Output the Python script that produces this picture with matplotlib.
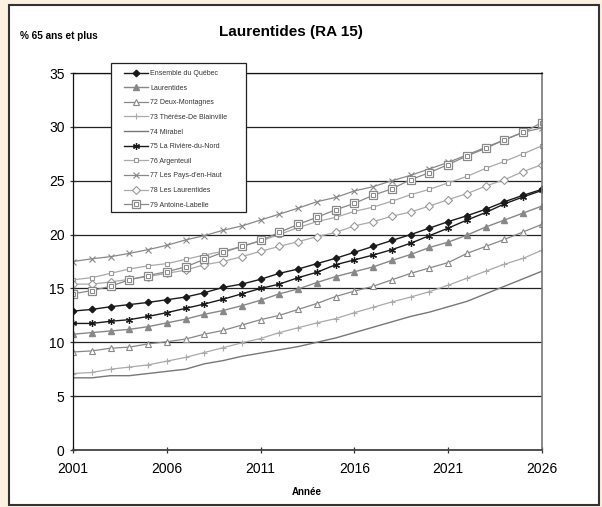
import numpy as np
import matplotlib
matplotlib.use("Agg")
import matplotlib.pyplot as plt
from matplotlib.patches import Rectangle
from matplotlib.legend_handler import HandlerTuple

plt.rcParams['font.family'] = ['Liberation Sans', 'DejaVu Sans']

years = np.arange(2001, 2027)

quebec = [12.9, 13.05, 13.3, 13.5, 13.7, 13.95, 14.2, 14.6, 15.1, 15.4, 15.85, 16.4, 16.8,
          17.3, 17.8, 18.35, 18.9, 19.45, 20.0, 20.6, 21.2, 21.75, 22.35, 23.05, 23.65, 24.2]
laurentides_ra = [10.75, 10.9, 11.05, 11.2, 11.45, 11.8, 12.15, 12.6, 12.95, 13.4, 13.9, 14.5, 14.95,
                  15.55, 16.1, 16.55, 17.0, 17.6, 18.15, 18.8, 19.3, 19.95, 20.7, 21.35, 22.0, 22.65]
deux_montagnes = [9.1, 9.2, 9.45, 9.55, 9.85, 10.05, 10.3, 10.75, 11.1, 11.6, 12.1, 12.5, 13.05,
                  13.6, 14.25, 14.75, 15.2, 15.8, 16.4, 16.9, 17.4, 18.25, 18.9, 19.55, 20.25, 20.95]
therese = [7.1, 7.2, 7.5, 7.7, 7.9, 8.25, 8.6, 9.05, 9.5, 9.95, 10.35, 10.9, 11.35,
           11.8, 12.2, 12.75, 13.25, 13.75, 14.2, 14.7, 15.3, 15.95, 16.6, 17.25, 17.8, 18.55]
mirabel = [6.7, 6.7, 6.9, 6.9, 7.1, 7.3, 7.5, 8.0, 8.3, 8.7, 9.0, 9.3, 9.6,
           10.0, 10.4, 10.9, 11.4, 11.9, 12.4, 12.8, 13.3, 13.8, 14.5, 15.2, 15.9, 16.6]
riviere_du_nord = [11.75, 11.75, 11.95, 12.1, 12.4, 12.75, 13.15, 13.55, 14.0, 14.5, 15.0, 15.4, 16.0,
                   16.5, 17.2, 17.65, 18.1, 18.6, 19.2, 19.9, 20.6, 21.35, 22.05, 22.85, 23.5, 24.1]
argenteuil = [15.8, 16.0, 16.4, 16.8, 17.1, 17.3, 17.7, 18.1, 18.45, 18.9, 19.4, 20.0, 20.65,
              21.2, 21.6, 22.15, 22.55, 23.1, 23.7, 24.2, 24.8, 25.4, 26.15, 26.8, 27.5, 28.25]
pays_d_en_haut = [17.5, 17.75, 17.95, 18.25, 18.6, 19.0, 19.5, 19.9, 20.4, 20.8, 21.35, 21.9, 22.45,
                  23.05, 23.45, 24.05, 24.45, 25.0, 25.5, 26.1, 26.7, 27.4, 28.1, 28.8, 29.5, 29.9]
les_laurentides = [15.4, 15.4, 15.6, 15.85, 16.1, 16.4, 16.7, 17.2, 17.5, 17.95, 18.45, 18.9, 19.35,
                   19.8, 20.2, 20.8, 21.2, 21.7, 22.1, 22.65, 23.25, 23.8, 24.5, 25.1, 25.85, 26.5]
antoine_labelle = [14.5, 14.8, 15.2, 15.8, 16.2, 16.55, 17.0, 17.7, 18.35, 18.9, 19.45, 20.2, 20.95,
                   21.6, 22.3, 22.9, 23.65, 24.25, 25.1, 25.75, 26.5, 27.3, 28.0, 28.8, 29.5, 30.4]

labels = ["Ensemble du Québec", "Laurentides", "72 Deux-Montagnes", "73 Thérèse-De Blainville",
          "74 Mirabel", "75 La Rivière-du-Nord", "76 Argenteuil", "77 Les Pays-d'en-Haut",
          "78 Les Laurentides", "79 Antoine-Labelle"]

fig = plt.figure(figsize=(6.02, 5.07), dpi=100, facecolor='#fdf1e2')
# white panel with dark frame
fig.patches.append(Rectangle((9 / 602, 2 / 507), 590 / 602, 500 / 507, transform=fig.transFigure,
                             facecolor='white', edgecolor='#333333', lw=1.5, zorder=-10))

ax = fig.add_axes([73 / 602, 1 - 450 / 507, 469 / 602, 377 / 507])
ax.set_facecolor('white')

h = []
h.append(ax.plot(years, quebec, color='#1a1a1a', lw=1, marker='D', ms=3.3, mfc='#1a1a1a', mec='#1a1a1a')[0])
h.append(ax.plot(years, laurentides_ra, color='#888888', lw=1, marker='^', ms=4, mfc='#888888', mec='#888888')[0])
h.append(ax.plot(years, deux_montagnes, color='#888888', lw=0.9, marker='^', ms=5, mfc='white', mec='#888888', mew=0.8)[0])
h.append(ax.plot(years, therese, color='#aaaaaa', lw=0.9, marker='+', ms=5, mec='#aaaaaa', mew=0.8)[0])
h.append(ax.plot(years, mirabel, color='#777777', lw=1)[0])
h.append(ax.plot(years, riviere_du_nord, color='#1a1a1a', lw=1, marker=(6, 2, 0), ms=5, mec='#1a1a1a', mew=0.9)[0])
h.append(ax.plot(years, argenteuil, color='#aaaaaa', lw=0.9, marker='s', ms=3.2, mfc='white', mec='#999999', mew=0.8)[0])
h.append(ax.plot(years, pays_d_en_haut, color='#888888', lw=0.9, marker='x', ms=4.5, mec='#888888', mew=0.8)[0])
h.append(ax.plot(years, les_laurentides, color='#aaaaaa', lw=0.9, marker='D', ms=3.6, mfc='white', mec='#999999', mew=0.8)[0])
al_outer = ax.plot(years, antoine_labelle, color='#888888', lw=0.9, marker='s', ms=5.2, mfc='white', mec='#888888', mew=0.9)[0]
al_inner = ax.plot(years, antoine_labelle, ls='none', marker='s', ms=2.2, mfc='none', mec='#888888', mew=0.7)[0]
h.append((al_outer, al_inner))

ax.set_xlim(2001, 2026)
ax.set_ylim(0, 35)
ax.set_xticks(np.arange(2001, 2027, 5))
ax.set_yticks(np.arange(0, 36, 5))
ax.yaxis.grid(True, color='#222222', lw=0.9)
ax.set_axisbelow(True)
ax.tick_params(axis='both', labelsize=10, direction='inout', length=5, width=0.9, color='#333333')
ax.tick_params(axis='x', pad=6)
for side in ['left', 'top']:
    ax.spines[side].set_color('#111111')
    ax.spines[side].set_linewidth(0.9)
ax.spines['bottom'].set_color('#444444')
ax.spines['bottom'].set_linewidth(1.3)
ax.spines['right'].set_color('#777777')
ax.spines['right'].set_linewidth(1.2)

# legend box drawn separately (wider than its text)
ax.add_patch(Rectangle((111 / 602, 1 - 212 / 507), 135 / 602, 149 / 507, transform=fig.transFigure,
                       facecolor='white', edgecolor='#222222', lw=0.9, zorder=4, clip_on=False))
leg = ax.legend(h, labels, loc='upper left', bbox_to_anchor=(124 / 602, 1 - 70 / 507),
                bbox_transform=fig.transFigure, fontsize=5, frameon=False,
                handlelength=3.5, handletextpad=0.3, labelspacing=1.1, borderpad=0, borderaxespad=0,
                handler_map={tuple: HandlerTuple(ndivide=1, pad=0)})
leg.set_zorder(5)
for t in leg.get_texts():
    t.set_color('#333333')

fig.text(291 / 602, 1 - 32 / 507, 'Laurentides (RA 15)', ha='center', va='center', fontsize=11, fontweight='bold')
fig.text(20 / 602, 1 - 36 / 507, '% 65 ans et plus', ha='left', va='center', fontsize=7.2, fontweight='bold')
fig.text(307 / 602, 1 - 492 / 507, 'Année', ha='center', va='center', fontsize=7, fontweight='bold')

fig.savefig('out.png', dpi=100, facecolor=fig.get_facecolor())
